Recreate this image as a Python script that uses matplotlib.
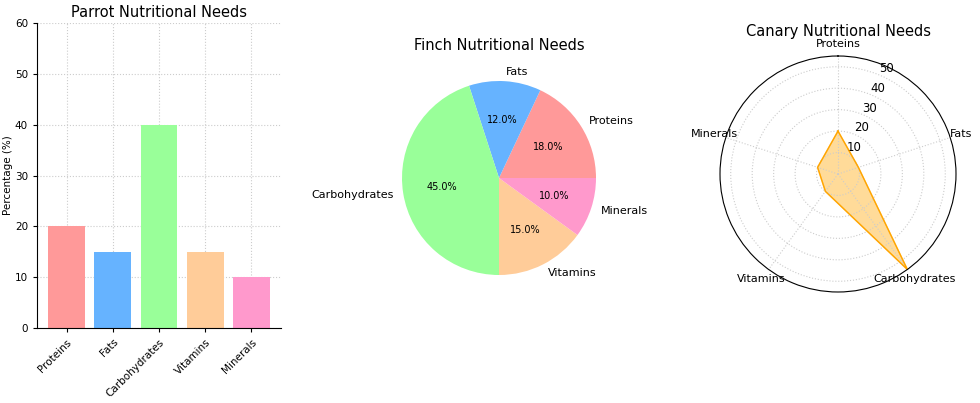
import matplotlib
matplotlib.use("Agg")
import matplotlib.pyplot as plt
import numpy as np

# data
nutrients = ["Proteins", "Fats", "Carbohydrates", "Vitamins", "Minerals"]
parrot_values = [20, 15, 40, 15, 10]
finch_values = [18, 12, 45, 15, 10]
canary_values = [20, 10, 55, 10, 10]
colors = ["#ff9999", "#66b3ff", "#99ff99", "#ffcc99", "#ff99cc"]

W, H = 980, 403
fig = plt.figure(figsize=(W / 100, H / 100), dpi=100)

def box(l, t, r, b):
    return [l / W, 1 - b / H, (r - l) / W, (b - t) / H]

# ---- parrot bars ----
ax1 = fig.add_axes(box(37, 23, 281, 328))
ax1.bar(nutrients, parrot_values, color=colors, zorder=2)
ax1.set_ylim(0, 60)
ax1.set_title("Parrot Nutritional Needs", fontsize=10.5, pad=4)
ax1.set_ylabel("Percentage (%)", fontsize=7.5, labelpad=1)
ax1.grid(True, linestyle=":", color="#cccccc", linewidth=0.8, zorder=0)
ax1.spines["top"].set_visible(False)
ax1.spines["right"].set_visible(False)
ax1.tick_params(labelsize=7.5, length=3)
plt.setp(ax1.get_xticklabels(), rotation=45, ha="right", rotation_mode="anchor")

# ---- finch pie ----
r_px = 97 * 1.25
ax2 = fig.add_axes(box(499 - r_px, 178 - r_px, 499 + r_px, 178 + r_px))
ax2.pie(finch_values, labels=nutrients, colors=colors, autopct="%1.1f%%",
        startangle=0, textprops={"fontsize": 8})
for t in ax2.texts:
    if "%" in t.get_text():
        t.set_fontsize(7)
ax2.set_title("Finch Nutritional Needs", fontsize=10.5, pad=5)

# ---- canary radar ----
R = 118
ax3 = fig.add_axes(box(838 - R, 174 - R, 838 + R, 174 + R), polar=True)
angles = np.linspace(0, 2 * np.pi, len(nutrients), endpoint=False)
vals = canary_values + canary_values[:1]
ang = np.concatenate([angles, angles[:1]])
ax3.set_theta_offset(np.pi / 2)
ax3.set_theta_direction(-1)
ax3.fill(ang, vals, color="orange", alpha=0.4)
ax3.plot(ang, vals, color="orange", linewidth=1)
ax3.set_xticks(angles)
ax3.set_xticklabels(nutrients, fontsize=8)
ax3.set_ylim(0, max(canary_values))
ax3.set_yticks([10, 20, 30, 40, 50])
ax3.tick_params(axis="y", labelsize=8.5)
ax3.tick_params(axis="x", pad=-2)
ax3.grid(True, linestyle=":", color="#cccccc", linewidth=0.8)
ax3.set_title("Canary Nutritional Needs", fontsize=10.5, pad=2)

fig.savefig("out.png", dpi=100)
